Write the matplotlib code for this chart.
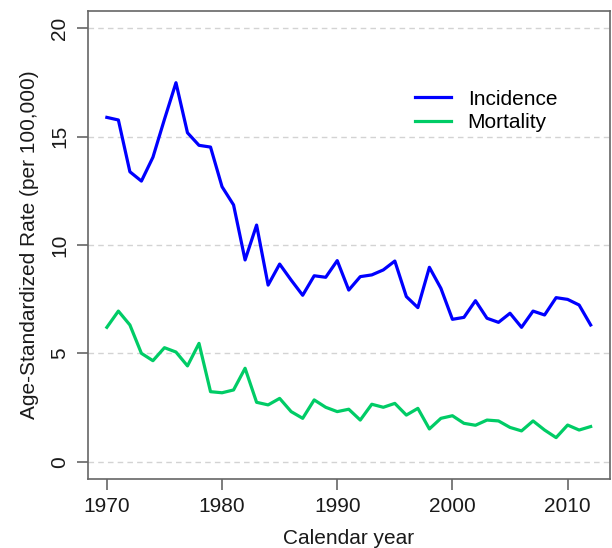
import numpy as np
import matplotlib
matplotlib.use('Agg')
import matplotlib.pyplot as plt

plt.rcParams['font.family'] = ['Liberation Sans', 'DejaVu Sans']

# Données
years = list(range(1970, 2013))
incidence = [15.89, 15.77, 13.38, 12.95, 14.05, 15.8, 17.49, 15.18, 14.6, 14.52,
             12.69, 11.85, 9.31, 10.92, 8.15, 9.12, 8.38, 7.68, 8.58, 8.51,
             9.28, 7.92, 8.54, 8.62, 8.85, 9.26, 7.62, 7.11, 8.97, 8.0,
             6.57, 6.66, 7.43, 6.62, 6.43, 6.85, 6.2, 6.95, 6.77, 7.57,
             7.49, 7.23, 6.31]
mortality = [6.2, 6.95, 6.31, 5.0, 4.66, 5.26, 5.06, 4.42, 5.46, 3.23,
             3.18, 3.31, 4.31, 2.74, 2.62, 2.92, 2.31, 2.0, 2.85, 2.51,
             2.31, 2.42, 1.92, 2.65, 2.51, 2.69, 2.15, 2.46, 1.51, 2.0,
             2.12, 1.77, 1.68, 1.92, 1.88, 1.58, 1.42, 1.88, 1.46, 1.11,
             1.69, 1.46, 1.62]
xticks = [1970, 1980, 1990, 2000, 2010]
yticks = [0, 5, 10, 15, 20]

W, H = 612, 548
fig = plt.figure(figsize=(W / 100, H / 100), dpi=100)
ax = fig.add_axes([87.5 / W, (H - 479) / H, (610 - 87.5) / W, (479 - 11) / H])

for y in yticks:
    ax.axhline(y, color='#d3d3d3', lw=1, ls=(0, (4, 3)), zorder=0)

ax.plot(years, incidence, color='#0000ff', lw=2.3, label='Incidence')
ax.plot(years, mortality, color='#00cc66', lw=2.3, label='Mortality')

ax.set_xlim(1968.32, 2013.68)
ax.set_ylim(-0.8, 20.8)
ax.set_xticks(xticks)
ax.set_yticks(yticks)

fs = 15
for s in ax.spines.values():
    s.set_color('#666666')
    s.set_linewidth(1.2)
ax.tick_params(axis='both', length=8, width=1.2, color='#666666', labelsize=fs,
               labelcolor='#1a1a1a')
ax.tick_params(axis='x', pad=5)
ax.tick_params(axis='y', pad=5, labelrotation=90)
for lab in ax.get_yticklabels():
    lab.set_va('center')

ax.set_xlabel('Calendar year', fontsize=fs, color='#1a1a1a', labelpad=9)
ax.set_ylabel('Age-Standardized Rate (per 100,000)', fontsize=fs, color='#1a1a1a', labelpad=8)

ax.legend(loc='upper left', bbox_to_anchor=(0.59, 0.872), frameon=False, fontsize=fs,
          handlelength=1.75, handletextpad=0.8, labelspacing=0.2)

fig.savefig('out.png', dpi=100)
